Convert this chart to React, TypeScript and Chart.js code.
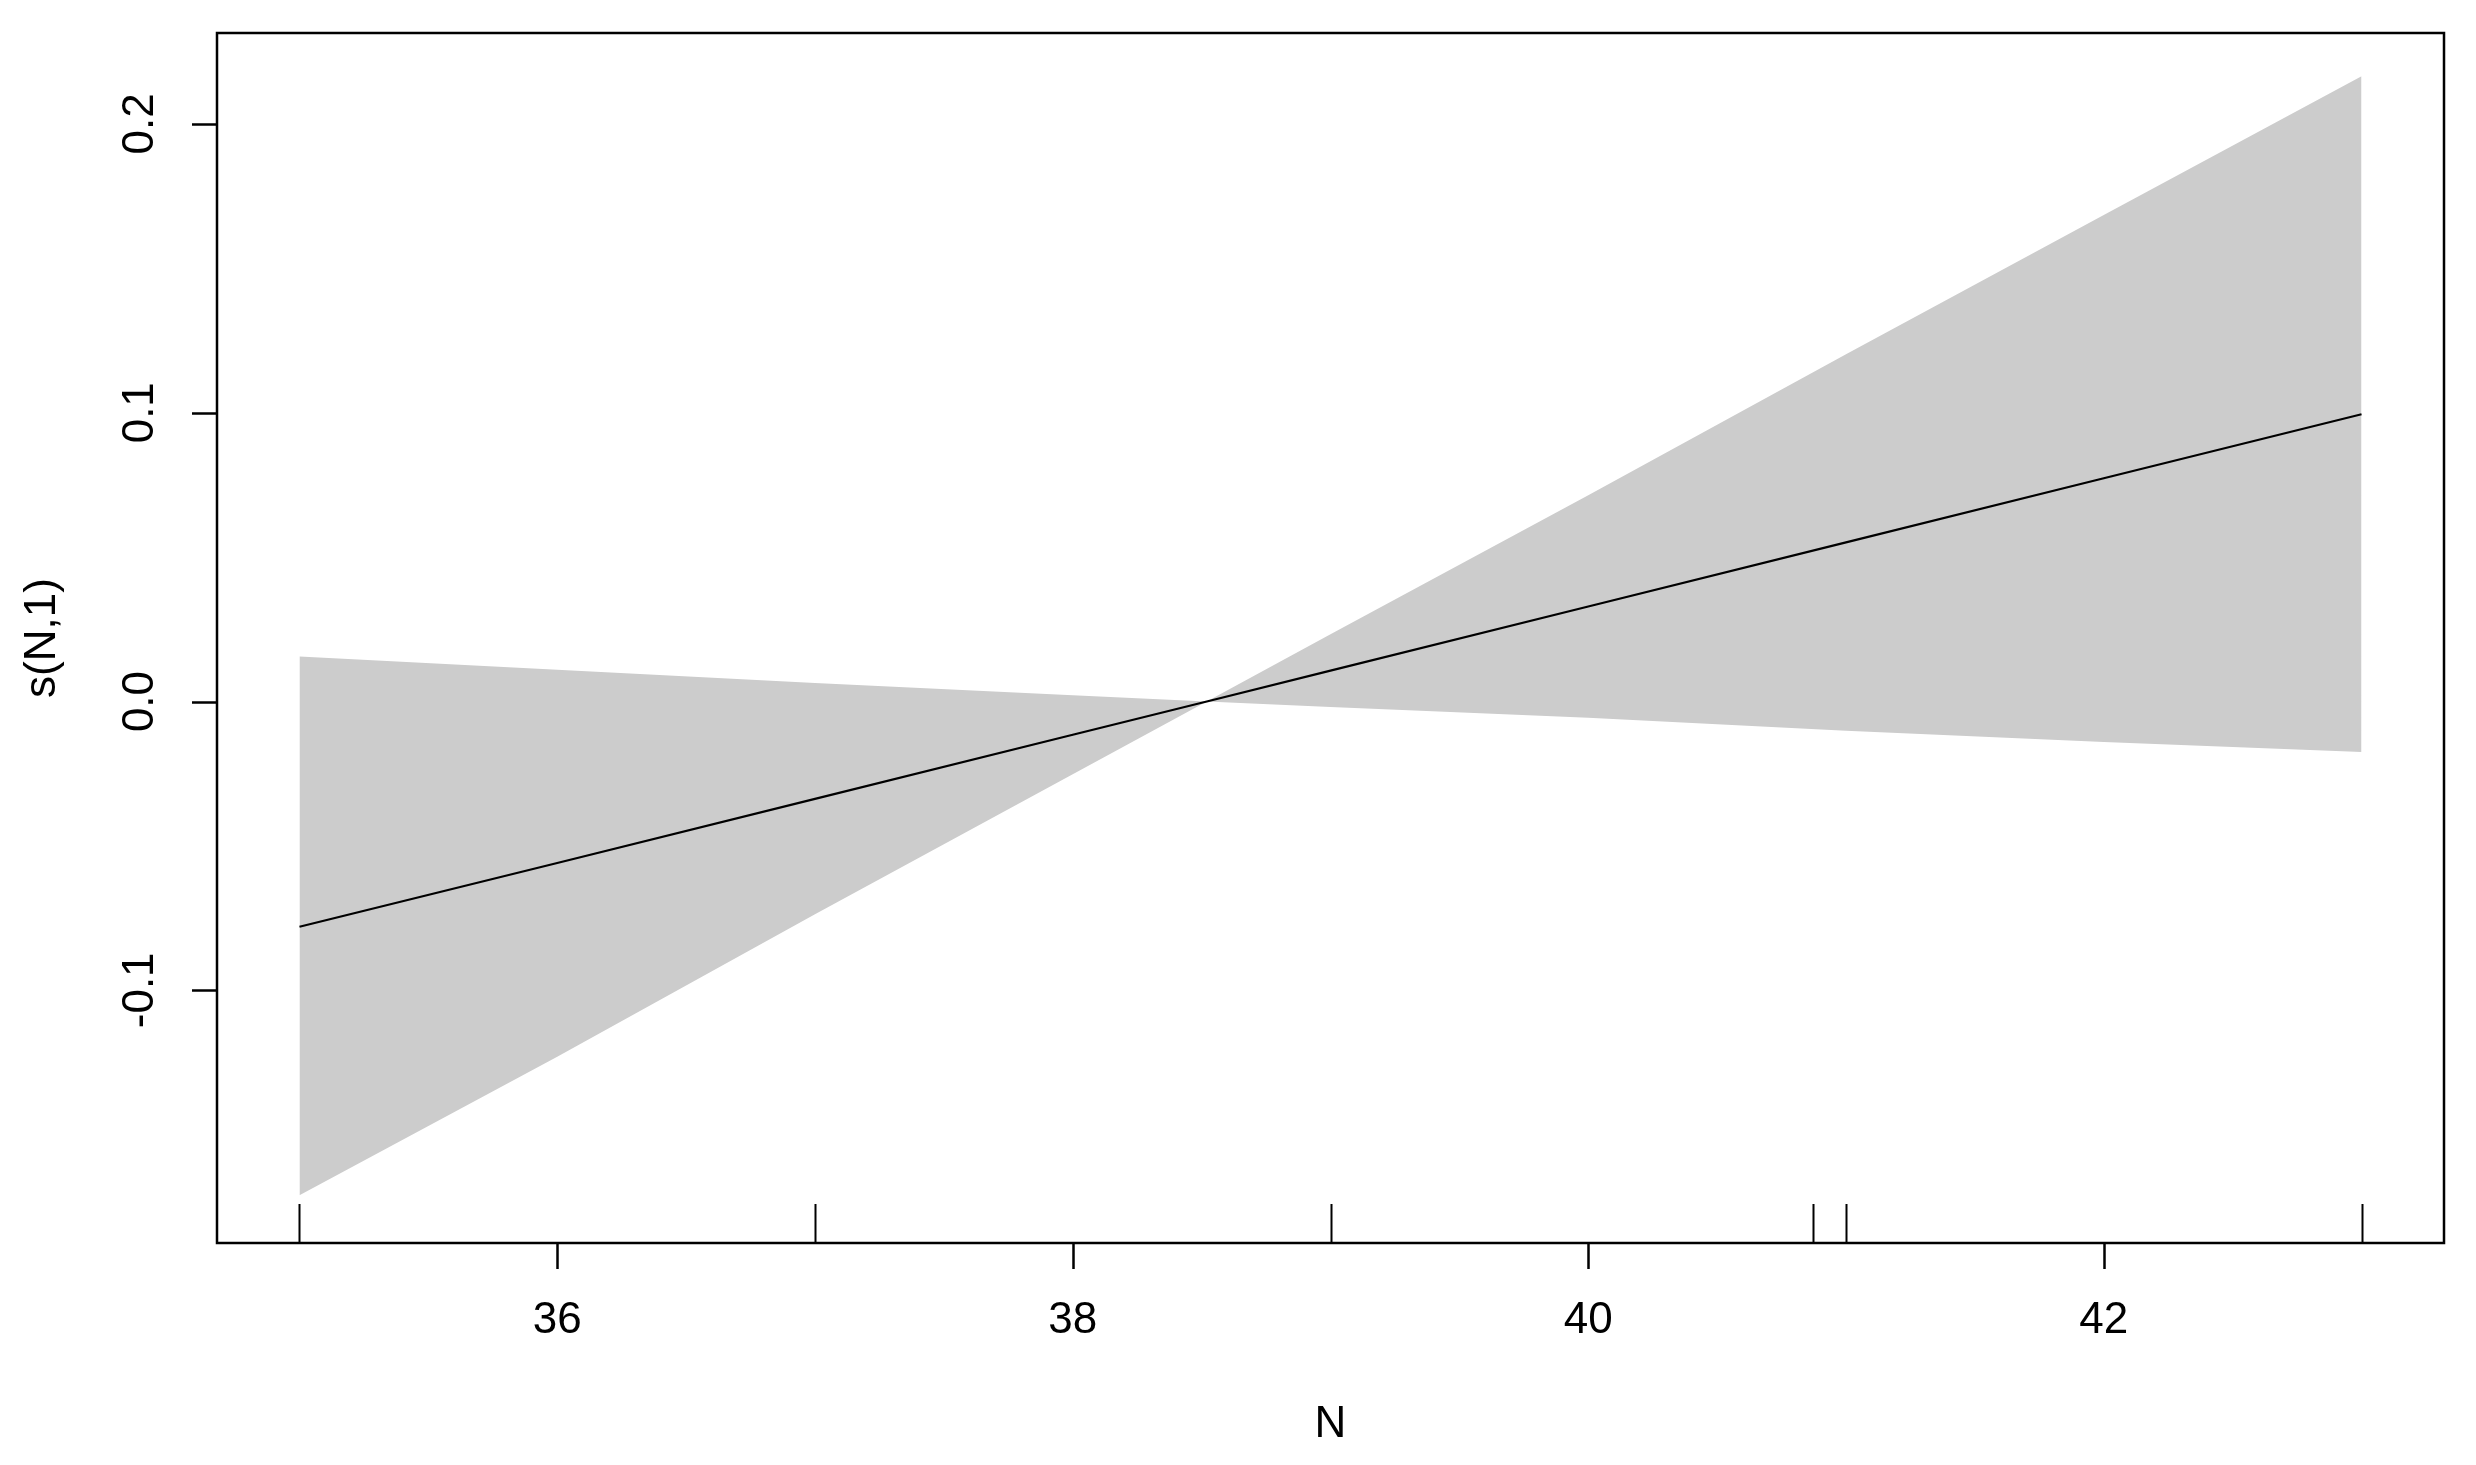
import React, { useEffect, useRef } from "react";
import { Chart, registerables } from "chart.js";

Chart.register(...registerables);

// Data
const nValues = [35, 36, 37, 38, 38.52, 39, 40, 41, 42, 43];
const fitValues = [-0.078, -0.0559, -0.0337, -0.0115, 0, 0.0107, 0.0329, 0.0551, 0.0773, 0.0995];
const upperValues = [0.0156, 0.0110, 0.0064, 0.0022, 0, 0.0233, 0.0714, 0.1203, 0.1685, 0.2165];
const lowerValues = [-0.171, -0.1230, -0.0737, -0.0252, 0, -0.0019, -0.0056, -0.0101, -0.0140, -0.0175];
const rugValues = [35, 37, 39, 40.87, 41, 43];
const xTicks = [36, 38, 40, 42];
const yTicks = [-0.1, 0.0, 0.1, 0.2];
const xTitle = "N";
const yTitle = "s(N,1)";

const FONT = '44px "Liberation Sans", Arial, sans-serif';

const axesPlugin = {
  id: "rAxes",
  afterDraw(chart: any) {
    const { ctx, chartArea, scales } = chart;
    const xs = scales.x;
    const ys = scales.y;
    ctx.save();
    ctx.strokeStyle = "#000";
    ctx.fillStyle = "#000";
    ctx.lineWidth = 2.5;
    // box
    ctx.strokeRect(chartArea.left, chartArea.top, chartArea.right - chartArea.left, chartArea.bottom - chartArea.top);
    // rug
    ctx.lineWidth = 2;
    ctx.beginPath();
    for (const r of rugValues) {
      const px = Math.round(xs.getPixelForValue(r)) + 0.5;
      ctx.moveTo(px, chartArea.bottom);
      ctx.lineTo(px, chartArea.bottom - 39);
    }
    ctx.stroke();
    // x ticks
    ctx.lineWidth = 2.5;
    ctx.beginPath();
    for (const t of xTicks) {
      const px = Math.round(xs.getPixelForValue(t)) + 0.5;
      ctx.moveTo(px, chartArea.bottom);
      ctx.lineTo(px, chartArea.bottom + 26);
    }
    ctx.stroke();
    ctx.font = FONT;
    ctx.textAlign = "center";
    ctx.textBaseline = "middle";
    for (const t of xTicks) {
      ctx.fillText(String(t), xs.getPixelForValue(t), 1321);
    }
    // y ticks
    ctx.beginPath();
    for (const t of yTicks) {
      const py = Math.round(ys.getPixelForValue(t)) + 0.5;
      ctx.moveTo(chartArea.left, py);
      ctx.lineTo(chartArea.left - 25, py);
    }
    ctx.stroke();
    for (const t of yTicks) {
      const py = ys.getPixelForValue(t);
      ctx.save();
      ctx.translate(141, py);
      ctx.rotate(-Math.PI / 2);
      ctx.textAlign = "center";
      ctx.textBaseline = "middle";
      ctx.fillText(t.toFixed(1), 0, 0);
      ctx.restore();
    }
    // titles
    ctx.textAlign = "center";
    ctx.textBaseline = "middle";
    ctx.fillText(xTitle, (chartArea.left + chartArea.right) / 2, 1425);
    ctx.save();
    ctx.translate(43, (chartArea.top + chartArea.bottom) / 2);
    ctx.rotate(-Math.PI / 2);
    ctx.fillText(yTitle, 0, 0);
    ctx.restore();
    ctx.restore();
  },
};

export default function App() {
  const ref = useRef<HTMLCanvasElement | null>(null);
  useEffect(() => {
    if (!ref.current) return;
    const toXY = (ys: number[]) => nValues.map((x, i) => ({ x, y: ys[i] }));
    const chart = new Chart(ref.current, {
      type: "line",
      data: {
        datasets: [
          {
            data: toXY(upperValues),
            borderWidth: 0,
            borderColor: "rgba(0,0,0,0)",
            backgroundColor: "#CCCCCC",
            pointRadius: 0,
            fill: "+1",
            tension: 0,
            order: 2,
          },
          {
            data: toXY(lowerValues),
            borderWidth: 0,
            borderColor: "rgba(0,0,0,0)",
            pointRadius: 0,
            fill: false,
            tension: 0,
            order: 2,
          },
          {
            data: toXY(fitValues),
            borderWidth: 2.2,
            borderColor: "#000000",
            pointRadius: 0,
            fill: false,
            tension: 0,
            order: 0,
          },
        ],
      },
      options: {
        animation: false,
        responsive: false,
        maintainAspectRatio: false,
        devicePixelRatio: 1,
        layout: { padding: { left: 217, top: 33, right: 32, bottom: 222 } },
        plugins: { legend: { display: false }, tooltip: { enabled: false } },
        scales: {
          x: { type: "linear", display: false, min: 34.68, max: 43.32 },
          y: { type: "linear", display: false, min: -0.1875, max: 0.2315 },
        },
      },
      plugins: [axesPlugin],
    });
    return () => chart.destroy();
  }, []);
  return (
    <div style={{ position: "fixed", left: 0, top: 0, width: 2476, height: 1465, background: "#fff" }}>
      <canvas ref={ref} width={2476} height={1465} style={{ width: 2476, height: 1465, display: "block" }} />
    </div>
  );
}
